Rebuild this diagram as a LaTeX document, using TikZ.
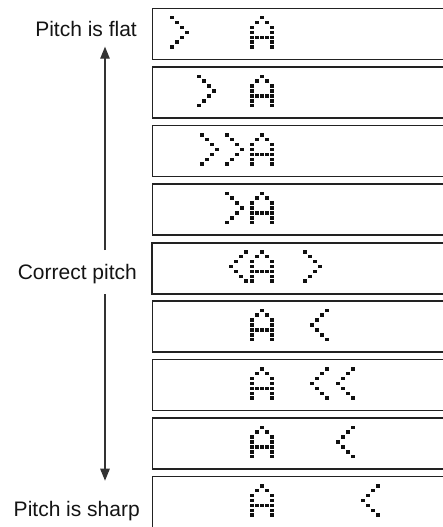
\documentclass[tikz,border=0pt]{standalone}
\usepackage{fontspec}
\setmainfont{Liberation Sans}
\usetikzlibrary{arrows.meta}
\definecolor{dotc}{HTML}{111111}
\definecolor{edgec}{HTML}{222222}
\def\glyphA{2/0,1/1,3/1,0/2,4/2,0/3,4/3,0/4,1/4,2/4,3/4,4/4,0/5,4/5,0/6,4/6}
\def\glyphGt{0/0,1/1,2/2,3/3,2/4,1/5,0/6}
\def\glyphLt{3/0,2/1,1/2,0/3,1/4,2/5,3/6}
% #1 x of leftmost dot, #2 row index of box, #3 glyph list
\newcommand{\lcdglyph}[3]{%
  \pgfmathsetmacro{\gy}{16.0+58.5*#2}%
  \foreach \c/\r in #3 {\fill[dotc] ({#1+5*\c},{\gy+4.9*\r}) rectangle ++(3.5,3.5);}%
}
\begin{document}
\begin{tikzpicture}[x=1pt,y=-1pt,
  lcdbox/.style={draw=edgec,line width=1.5pt,minimum width=320pt,minimum height=50.6pt,anchor=north west,inner sep=0pt,outer sep=0pt},
  lcdmain/.style={lcdbox,line width=2.3pt,minimum height=51.3pt},
  lab/.style={font=\fontsize{21}{25}\selectfont,text=black!92,inner sep=0pt},
  arr/.style={draw=black!80,line width=1.1pt,-{Triangle[length=12pt,width=9.5pt]}}]
\useasboundingbox (0,0) rectangle (443,527);
\clip (0,0) rectangle (443,527);
% display boxes
\foreach \k in {0,1,2,3,5,6,7,8}{
  \node[lcdbox] (b\k) at (152.7,{8.7+58.5*\k}) {};
}
\node[lcdmain] (b4) at (152.2,242.7) {};
% characters
\lcdglyph{170}{0}{\glyphGt}\lcdglyph{250}{0}{\glyphA}
\lcdglyph{197}{1}{\glyphGt}\lcdglyph{250}{1}{\glyphA}
\lcdglyph{200}{2}{\glyphGt}\lcdglyph{225}{2}{\glyphGt}\lcdglyph{250}{2}{\glyphA}
\lcdglyph{225}{3}{\glyphGt}\lcdglyph{250}{3}{\glyphA}
\lcdglyph{229}{4}{\glyphLt}\lcdglyph{250}{4}{\glyphA}\lcdglyph{303}{4}{\glyphGt}
\lcdglyph{250}{5}{\glyphA}\lcdglyph{310}{5}{\glyphLt}
\lcdglyph{250}{6}{\glyphA}\lcdglyph{310}{6}{\glyphLt}\lcdglyph{336}{6}{\glyphLt}
\lcdglyph{250}{7}{\glyphA}\lcdglyph{336}{7}{\glyphLt}
\lcdglyph{250}{8}{\glyphA}\lcdglyph{361}{8}{\glyphLt}
% labels
\node[lab,anchor=base east] (flat) at (137,36.7) {Pitch is flat};
\node[lab,anchor=base east] (correct) at (137,279) {Correct pitch};
\node[lab,anchor=base east] (sharp) at (140,516) {Pitch is sharp};
% arrows
\coordinate (uptip) at (105,46.7);
\coordinate (upstart) at (105,250);
\coordinate (dnstart) at (105,294.3);
\coordinate (dntip) at (105,480.7);
\draw[arr] (upstart) -- (uptip);
\draw[arr] (dnstart) -- (dntip);
\end{tikzpicture}
\end{document}
